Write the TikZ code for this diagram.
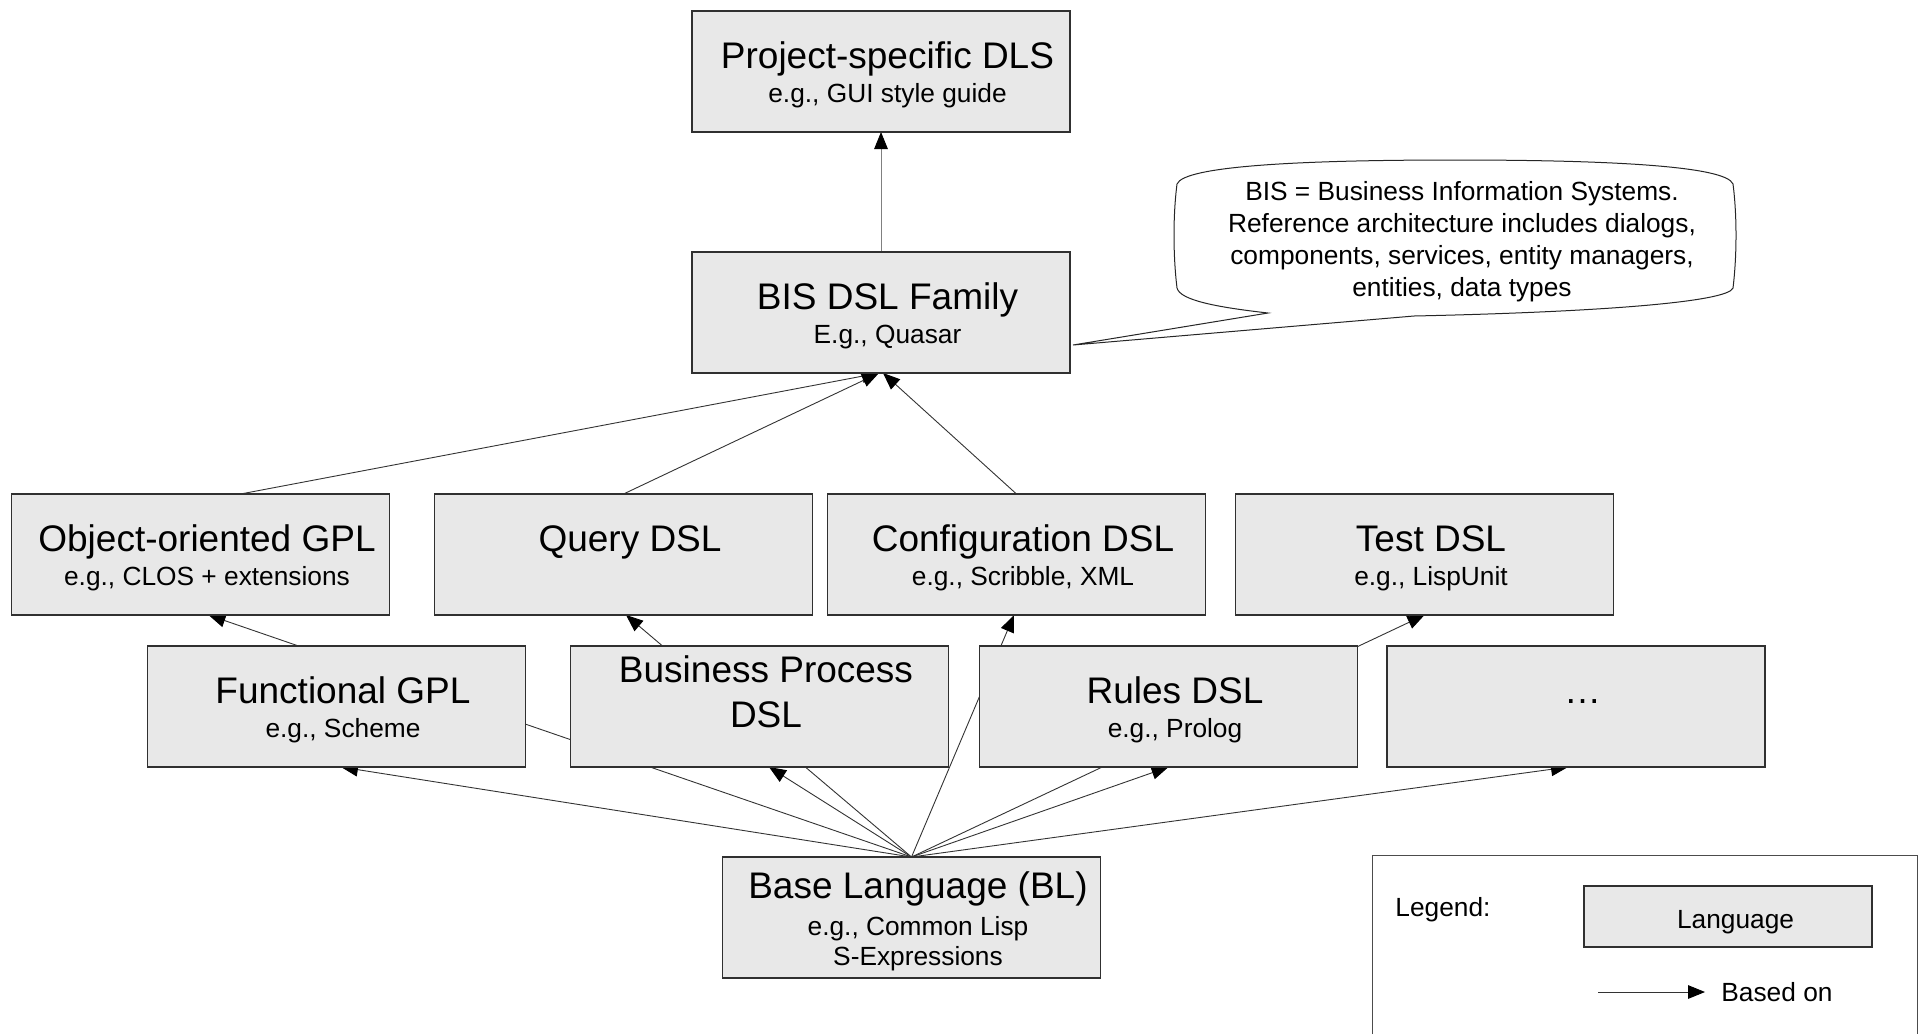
\documentclass[tikz,border=0pt]{standalone}
\usepackage{fontspec}
\setmainfont{Liberation Sans}
\usetikzlibrary{arrows.meta,calc}
\pgfdeclarelayer{bg}
\pgfsetlayers{bg,main}
\definecolor{boxfill}{HTML}{E8E8E8}
\definecolor{edge}{HTML}{303030}
\begin{document}
\begin{tikzpicture}[x=0.5pt,y=-0.5pt,
  box/.style={draw=edge, line width=0.6pt, fill=boxfill, minimum width=189pt, minimum height=60.5pt, inner sep=0pt, outer sep=0pt},
  ttl/.style={anchor=base, inner sep=0pt, font=\fontsize{18.5pt}{22pt}\selectfont},
  sub/.style={anchor=base, inner sep=0pt, font=\fontsize{13.15pt}{16pt}\selectfont},
  conn/.style={draw=black!80, line width=0.45pt, -{Triangle[length=8.5pt,width=6.8pt,color=black]}},
  callout/.style={draw=black!85, line width=0.5pt, fill=white},
  legframe/.style={draw=black!70, line width=0.5pt}
]
\useasboundingbox (0,0) rectangle (1921,1034);

% ---------- boxes ----------
\node[box] (proj) at (881,71.5) {};
\node[ttl] (projT) at ($(proj.north)+(6.5,57)$) {Project-specific DLS};
\node[sub] (projS) at ($(proj.north)+(6.5,91)$) {e.g., GUI style guide};

\node[box] (bis) at (881,312.5) {};
\node[ttl] (bisT) at ($(bis.north)+(6.5,57)$) {BIS DSL Family};
\node[sub] (bisS) at ($(bis.north)+(6.5,91)$) {E.g., Quasar};

\node[box] (oo) at (200.5,554.5) {};
\node[ttl] (ooT) at ($(oo.north)+(6.5,57)$) {Object-oriented GPL};
\node[sub] (ooS) at ($(oo.north)+(6.5,91)$) {e.g., CLOS + extensions};

\node[box] (query) at (623.5,554.5) {};
\node[ttl] (queryT) at ($(query.north)+(6.5,57)$) {Query DSL};

\node[box] (config) at (1016.5,554.5) {};
\node[ttl] (configT) at ($(config.north)+(6.5,57)$) {Configuration DSL};
\node[sub] (configS) at ($(config.north)+(6.5,91)$) {e.g., Scribble, XML};

\node[box] (test) at (1424.5,554.5) {};
\node[ttl] (testT) at ($(test.north)+(6.5,57)$) {Test DSL};
\node[sub] (testS) at ($(test.north)+(6.5,91)$) {e.g., LispUnit};

\node[box] (func) at (336.5,706.5) {};
\node[ttl] (funcT) at ($(func.north)+(6.5,57)$) {Functional GPL};
\node[sub] (funcS) at ($(func.north)+(6.5,91)$) {e.g., Scheme};

\node[box] (bp) at (759.5,706.5) {};
\node[ttl] (bpT1) at ($(bp.north)+(6.5,36)$) {Business Process};
\node[ttl] (bpT2) at ($(bp.north)+(6.5,81)$) {DSL};

\node[box] (rules) at (1168.5,706.5) {};
\node[ttl] (rulesT) at ($(rules.north)+(6.5,57)$) {Rules DSL};
\node[sub] (rulesS) at ($(rules.north)+(6.5,91)$) {e.g., Prolog};

\node[box] (more) at (1576,706.5) {};
\node[ttl] (moreT) at ($(more.north)+(6.5,57)$) {\dots};

\node[box] (base) at (911.5,917.5) {};
\node[ttl] (baseT) at ($(base.north)+(6.5,41)$) {Base Language (BL)};
\node[sub] (baseS1) at ($(base.north)+(6.5,78)$) {e.g., Common Lisp};
\node[sub] (baseS2) at ($(base.north)+(6.5,108)$) {S-Expressions};

% ---------- connectors (behind the boxes) ----------
\begin{pgfonlayer}{bg}
\draw[conn] (base.north) -- ([xshift=2.25pt]func.south);
\draw[conn] (base.north) -- ([xshift=4pt]oo.south);
\draw[conn] (base.north) -- ([xshift=4.75pt]bp.south);
\draw[conn] (base.north) -- ([xshift=1.25pt]query.south);
\draw[conn] (base.north) -- ([xshift=-1.25pt]config.south);
\draw[conn] (base.north) -- (rules.south);
\draw[conn] (base.north) -- (test.south);
\draw[conn] (base.north) -- ([xshift=-4pt]more.south);
\draw[conn] ([xshift=20pt]oo.north) -- ([xshift=-1pt]bis.south);
\draw[conn] (query.north) -- ([xshift=-1pt]bis.south);
\draw[conn] (config.north) -- ([xshift=1pt]bis.south);
\draw[conn, draw=black!50] (bis.north) -- (proj.south);
\end{pgfonlayer}

% ---------- callout ----------
\draw[callout] (1268,313) .. controls (1215,307) and (1180,300) .. (1177,288)
  .. controls (1173,255) and (1173,215) .. (1177,184)
  .. controls (1184,166) and (1300,160) .. (1455,160)
  .. controls (1610,160) and (1726,166) .. (1733,184)
  .. controls (1737,215) and (1737,255) .. (1733,288)
  .. controls (1728,302) and (1600,312) .. (1414,316)
  -- (1073,345) -- cycle;
\node[sub] (c1) at (1462,200) {BIS = Business Information Systems.};
\node[sub] (c2) at (1462,232) {Reference architecture includes dialogs,};
\node[sub] (c3) at (1462,264) {components, services, entity managers,};
\node[sub] (c4) at (1462,296) {entities, data types};

% ---------- legend ----------
\draw[legframe] (1372,1034) -- (1372,855) -- (1917,855) -- (1917,1034);
\node[sub, anchor=base west] (legT) at (1395,916) {Legend:};
\node[box, minimum width=144pt, minimum height=30.5pt] (leglang) at (1728,916.5) {};
\node[sub] (leglangT) at ($(leglang.north)+(7.5,42)$) {Language};
\coordinate (la) at (1598,992);
\coordinate (lb) at (1705,992);
\draw[conn] (la) -- (lb);
\node[sub, anchor=base west] (legB) at (1721,1001) {Based on};
\end{tikzpicture}
\end{document}
